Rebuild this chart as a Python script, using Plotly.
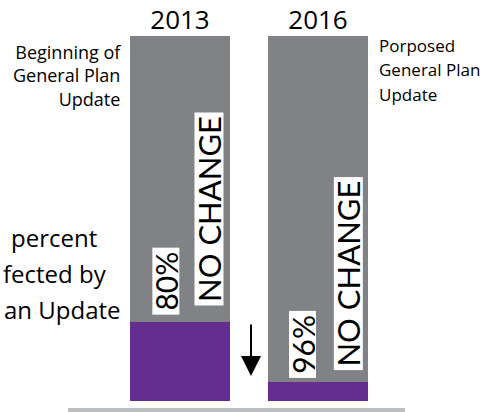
import plotly.graph_objects as go

# ---- data ----
years = ["2013", "2016"]
affected = [21.6, 5.2]          # purple part (affected by the update)
not_affected = [78.4, 94.8]     # grey part (no change)
pct_labels = ["80%", "96%"]
status_labels = ["NO CHANGE", "NO CHANGE"]
top_left_note = ["Beginning of", "General Plan", "Update"]
top_right_note = ["Porposed", "General Plan", "Update"]
side_note = ["percent", "fected by", "an Update"]

GREY = "#808285"
PURPLE = "#662d91"
W, H = 490, 412
T, B = 36, 11
PH = H - T - B
BAR_W = 100 / 138


def px(x):
    return x / W


def py(y):
    return (H - B - y) / PH


fig = go.Figure()
fig.add_bar(x=years, y=affected, marker=dict(color=PURPLE, line=dict(width=0)),
            width=BAR_W, hoverinfo="skip")
fig.add_bar(x=years, y=not_affected, marker=dict(color=GREY, line=dict(width=0)),
            width=BAR_W, hoverinfo="skip")

fig.update_layout(
    barmode="stack", width=W, height=H, showlegend=False,
    margin=dict(l=0, r=0, t=T, b=B),
    plot_bgcolor="white", paper_bgcolor="white",
    font=dict(family="Open Sans", color="black"),
)
fig.update_xaxes(type="category", range=[-180 / 138, 310 / 138], side="top",
                 showgrid=False, zeroline=False, showline=False, ticks="",
                 tickfont=dict(family="Open Sans", size=26, color="black"),
                 ticklabelstandoff=1)
fig.update_yaxes(range=[0, 100], visible=False)

# notes
fig.add_annotation(xref="paper", yref="paper", x=px(123), y=py(75), xanchor="right",
                   yanchor="middle", align="right", showarrow=False,
                   text="<br>".join(top_left_note), font=dict(size=18))
for line, yc in zip(top_right_note, [45, 69.5, 94]):
    fig.add_annotation(xref="paper", yref="paper", x=px(377), y=py(yc), xanchor="left",
                       yanchor="middle", showarrow=False, text=line, font=dict(size=17))
for line, xr, yc in zip(side_note, [99, 109, 123], [238, 273, 309]):
    fig.add_annotation(xref="paper", yref="paper", x=px(xr), y=py(yc), xanchor="right",
                       yanchor="middle", showarrow=False, text=line, font=dict(size=24))

# rotated labels on bars
pct_pos = [(-0.105, 32.7), (-0.109, 15.5)]
status_pos = [(0.210, 52.6), (0.217, 34.9)]
for i in range(len(years)):
    fig.add_annotation(x=i + pct_pos[i][0], y=pct_pos[i][1], xref="x", yref="y",
                       text=pct_labels[i], textangle=-90, showarrow=False,
                       bgcolor="white", borderpad=0, width=66, height=26,
                       font=dict(family="Lato", size=30, color="black"))
    fig.add_annotation(x=i + status_pos[i][0], y=status_pos[i][1], xref="x", yref="y",
                       text=status_labels[i], textangle=-90, showarrow=False,
                       bgcolor="white", borderpad=0, width=192, height=28,
                       font=dict(family="Lato", size=31, color="black"))

# arrow
fig.add_annotation(xref="paper", yref="paper", x=px(251), y=py(376), ax=0, ay=-53,
                   text="", showarrow=True, arrowhead=2, arrowsize=2, arrowwidth=2,
                   arrowcolor="black", standoff=0)

# base line
fig.add_shape(type="line", xref="paper", yref="paper", x0=px(68), x1=px(405),
              y0=py(410), y1=py(410), line=dict(color="#bcbec0", width=4))

fig.write_html("out.html", config={"displayModeBar": False},
               post_script="document.body.style.margin='0';document.body.style.padding='0';")
